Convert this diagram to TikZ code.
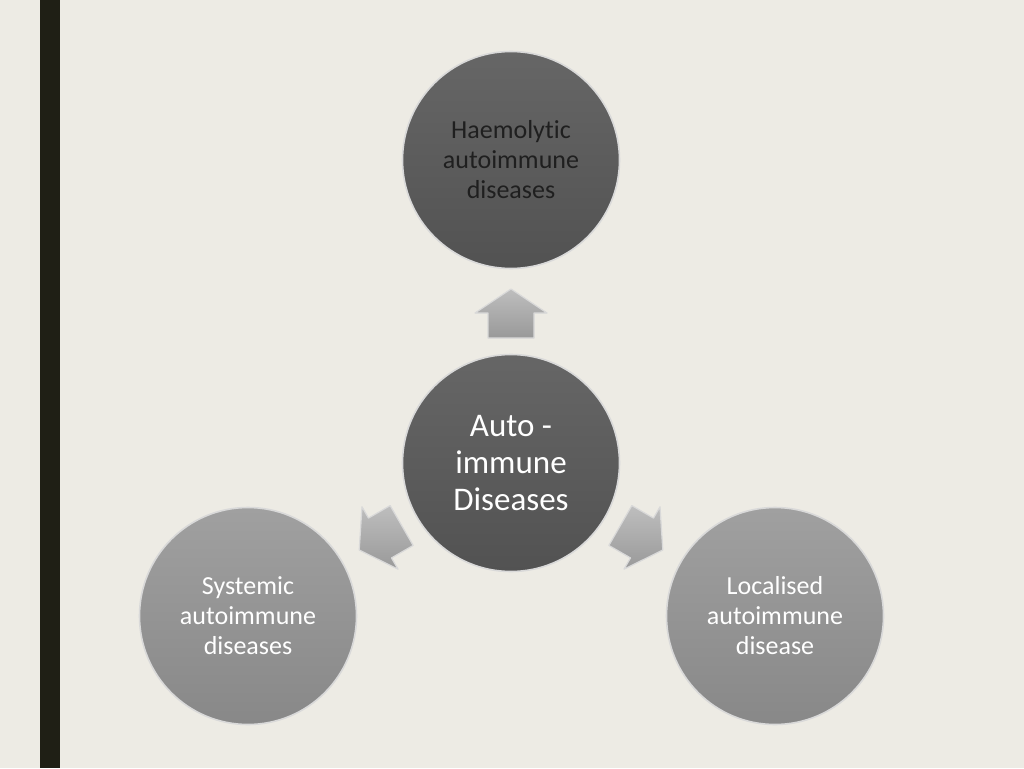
\documentclass[tikz,border=0pt]{standalone}
\usepackage{fontspec}
\setmainfont[Ligatures=NoCommon]{Carlito}
\definecolor{bgc}{HTML}{EDEBE4}
\definecolor{barc}{HTML}{1F1F15}
\definecolor{darktop}{HTML}{666666}
\definecolor{darkbot}{HTML}{525252}
\definecolor{lighttop}{HTML}{A0A0A0}
\definecolor{lightbot}{HTML}{888888}
\definecolor{rimc}{HTML}{D9D9D9}
\definecolor{arrtop}{HTML}{BEBEBE}
\definecolor{arrbot}{HTML}{999999}
\tikzset{
  bubble/.style={circle, minimum size=217pt, inner sep=0pt, draw=rimc, line width=1.6pt, align=center},
  darkbubble/.style={bubble, top color=darktop, bottom color=darkbot},
  lightbubble/.style={bubble, top color=lighttop, bottom color=lightbot},
  smalltxt/.style={font=\fontsize{26}{30}\selectfont},
  bigtxt/.style={font=\fontsize{33}{37}\selectfont},
  blockarrow/.style={draw=rimc, line width=1.2pt, top color=arrtop, bottom color=arrbot, line join=round}
}
\newcommand{\blockarrowpath}{(0,-24) -- (36,0) -- (23,0) -- (23,25) -- (-23,25) -- (-23,0) -- (-36,0) -- cycle}
\begin{document}
\begin{tikzpicture}[x=1pt,y=-1pt]
\useasboundingbox (0,0) rectangle (1024,768);
\fill[bgc] (0,0) rectangle (1024,768);
\fill[barc] (40,0) rectangle (59.5,768);

\node[darkbubble, smalltxt, text=black!88] (haem) at (511,160) {Haemolytic\\autoimmune\\diseases};
\node[darkbubble, bigtxt, text=white] (auto) at (511,463) {Auto -\\immune\\Diseases};
\node[lightbubble, smalltxt, text=white] (sys) at (248,616) {Systemic\\autoimmune\\diseases};
\node[lightbubble, smalltxt, text=white] (loc) at (775,616) {Localised\\autoimmune\\disease};

\begin{scope}[shift={(511,313)}]
  \path[blockarrow] \blockarrowpath;
\end{scope}
\begin{scope}[shift={(380,538)}, rotate=120]
  \path[blockarrow] \blockarrowpath;
\end{scope}
\begin{scope}[shift={(642,538)}, rotate=-120]
  \path[blockarrow] \blockarrowpath;
\end{scope}
\end{tikzpicture}
\end{document}
